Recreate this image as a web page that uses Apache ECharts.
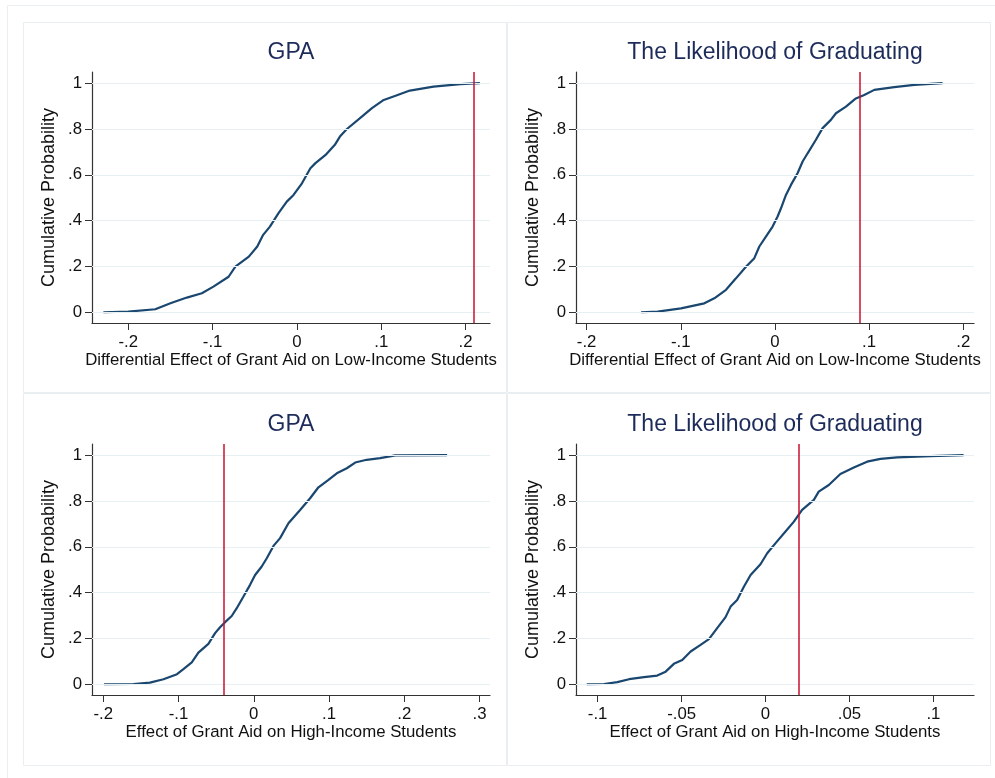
<!DOCTYPE html>
<html>
<head>
<meta charset="utf-8">
<script src="https://cdn.jsdelivr.net/npm/echarts@6/dist/echarts.min.js"></script>
<style>
html,body{margin:0;padding:0;background:#fff;}
#chart{width:995px;height:778px;}
</style>
</head>
<body>
<div id="chart"></div>
<script>
// ---------- Data ----------
const titles = ["GPA", "The Likelihood of Graduating", "GPA", "The Likelihood of Graduating"];
const xNames = [
  "Differential Effect of Grant Aid on Low-Income Students",
  "Differential Effect of Grant Aid on Low-Income Students",
  "Effect of Grant Aid on High-Income Students",
  "Effect of Grant Aid on High-Income Students"
];
const yName = "Cumulative Probability";
const yTicks = [0, 0.2, 0.4, 0.6, 0.8, 1];
const xTicks1 = [-0.2, -0.1, 0, 0.1, 0.2];
const xTicks2 = [-0.2, -0.1, 0, 0.1, 0.2];
const xTicks3 = [-0.2, -0.1, 0, 0.1, 0.2, 0.3];
const xTicks4 = [-0.1, -0.05, 0, 0.05, 0.1];
const xRange1 = [-0.243, 0.229];
const xRange2 = [-0.2113, 0.2114];
const xRange3 = [-0.215, 0.314];
const xRange4 = [-0.1129, 0.1242];
const refLines = [0.2067, 0.0853, -0.0382, 0.022];

// Panel 1: GPA, low-income differential
const p1X = [-0.2295,-0.2,-0.168,-0.150,-0.1305,-0.1127,-0.099,-0.081,-0.073,-0.057,-0.047,-0.040,-0.032,-0.022,-0.012,-0.004,0.006,0.016,0.022,0.034,0.045,0.051,0.059,0.077,0.089,0.103,0.117,0.134,0.162,0.194,0.217];
const p1Y = [0,0.003,0.013,0.039,0.064,0.083,0.112,0.155,0.199,0.243,0.287,0.338,0.374,0.432,0.483,0.512,0.563,0.629,0.651,0.687,0.731,0.767,0.799,0.854,0.891,0.927,0.945,0.968,0.985,0.996,1.0];
// Panel 2: Graduating, low-income differential
const p2X = [-0.1422,-0.1246,-0.0998,-0.075,-0.0644,-0.052,-0.0414,-0.0308,-0.0219,-0.0166,-0.0096,-0.0025,0.0028,0.0064,0.0117,0.017,0.024,0.0294,0.0347,0.0435,0.0506,0.0594,0.0648,0.0754,0.0853,0.0948,0.1055,0.1267,0.148,0.178];
const p2Y = [0,0.003,0.017,0.039,0.061,0.098,0.148,0.199,0.236,0.287,0.330,0.374,0.418,0.454,0.512,0.556,0.607,0.658,0.694,0.753,0.804,0.840,0.869,0.898,0.932,0.949,0.971,0.983,0.993,1.0];
// Panel 3: GPA, high-income
const p3X = [-0.199,-0.16,-0.138,-0.120,-0.102,-0.0935,-0.0824,-0.0736,-0.0603,-0.0514,-0.0448,-0.0381,-0.0293,-0.0226,-0.0137,-0.0049,0.0018,0.0106,0.0173,0.0262,0.035,0.0461,0.0616,0.0749,0.086,0.0993,0.1104,0.1237,0.1348,0.150,0.168,0.188,0.257];
const p3Y = [0,0.001,0.007,0.022,0.044,0.066,0.095,0.138,0.176,0.223,0.249,0.271,0.298,0.332,0.383,0.434,0.477,0.514,0.550,0.604,0.638,0.703,0.761,0.812,0.860,0.892,0.921,0.943,0.968,0.980,0.987,0.999,1.0];
// Panel 4: Graduating, high-income
const p4X = [-0.1065,-0.0962,-0.0883,-0.0813,-0.0724,-0.0645,-0.0595,-0.0546,-0.0496,-0.0446,-0.0387,-0.0337,-0.0288,-0.0238,-0.0208,-0.0169,-0.0129,-0.0089,-0.003,0.001,0.006,0.0119,0.0169,0.0218,0.0288,0.0317,0.0377,0.0446,0.0526,0.0605,0.0685,0.0784,0.0982,0.118];
const p4Y = [0,0.001,0.009,0.022,0.031,0.038,0.055,0.089,0.106,0.143,0.172,0.197,0.245,0.293,0.339,0.368,0.426,0.477,0.524,0.572,0.616,0.667,0.710,0.761,0.805,0.841,0.870,0.918,0.946,0.972,0.984,0.991,0.996,1.0];

// ---------- Build ----------
const FONT = "'Liberation Sans', Arial, sans-serif";
const panels = [
  {x:p1X, y:p1Y, ticks:xTicks1, range:xRange1, grid:{left:92, top:72, width:398, height:251}},
  {x:p2X, y:p2Y, ticks:xTicks2, range:xRange2, grid:{left:576, top:72, width:398, height:251}},
  {x:p3X, y:p3Y, ticks:xTicks3, range:xRange3, grid:{left:92, top:444, width:398, height:251}},
  {x:p4X, y:p4Y, ticks:xTicks4, range:xRange4, grid:{left:576, top:444, width:398, height:251}}
];
function fmt(v){
  if (v === 0) return '0';
  const s = String(Math.abs(+v.toFixed(4))).replace(/^0\./, '.');
  return (v < 0 ? '-' : '') + s;
}
const AXIS_COLOR = '#333';
const BORDER = '#e9eff1';
const option = {
  backgroundColor: '#fff',
  animation: false,
  title: [], grid: [], xAxis: [], yAxis: [], series: [],
  graphic: [
    {type:'rect', shape:{x:7.5, y:5.5, width:1000, height:800}, style:{fill:'none', stroke:BORDER, lineWidth:1}, silent:true},
    {type:'rect', shape:{x:23.5, y:22.5, width:483, height:370}, style:{fill:'none', stroke:BORDER, lineWidth:1}, silent:true},
    {type:'rect', shape:{x:507.5, y:22.5, width:483, height:370}, style:{fill:'none', stroke:BORDER, lineWidth:1}, silent:true},
    {type:'rect', shape:{x:23.5, y:393.5, width:483, height:372}, style:{fill:'none', stroke:BORDER, lineWidth:1}, silent:true},
    {type:'rect', shape:{x:507.5, y:393.5, width:483, height:372}, style:{fill:'none', stroke:BORDER, lineWidth:1}, silent:true}
  ]
};
panels.forEach((p, i) => {
  const g = p.grid;
  option.grid.push({left:g.left, top:g.top, width:g.width, height:g.height, containLabel:false});
  option.title.push({
    text: titles[i], left: g.left + g.width/2, top: g.top - 31, textAlign: 'center', padding: 0,
    textStyle: {fontFamily: FONT, fontSize: 23, fontWeight: 'normal', color: '#1c2b5a'}
  });
  option.xAxis.push({
    type:'value', gridIndex:i, min:p.range[0], max:p.range[1],
    name: xNames[i], nameLocation:'middle', nameGap: 29,
    nameTextStyle:{fontFamily:FONT, fontSize:16.8, color:'#111'},
    axisLine:{show:true, onZero:false, lineStyle:{color:AXIS_COLOR, width:1.2}},
    axisTick:{show:true, length:7, customValues:p.ticks, lineStyle:{color:AXIS_COLOR}},
    axisLabel:{customValues:p.ticks, formatter:fmt, margin:11, fontFamily:FONT, fontSize:16.8, color:'#111'},
    splitLine:{show:false}
  });
  option.yAxis.push({
    type:'value', gridIndex:i, min:-0.047, max:1.049,
    name: yName, nameLocation:'middle', nameGap: 34,
    nameTextStyle:{fontFamily:FONT, fontSize:18, color:'#111'},
    axisLine:{show:true, onZero:false, lineStyle:{color:AXIS_COLOR, width:1.2}},
    axisTick:{show:true, length:7, customValues:yTicks, lineStyle:{color:AXIS_COLOR}},
    axisLabel:{customValues:yTicks, formatter:fmt, margin:10, fontFamily:FONT, fontSize:16.8, color:'#111'},
    splitLine:{show:false}
  });
  // gridlines
  option.series.push({
    type:'line', xAxisIndex:i, yAxisIndex:i, data:[], z:1, silent:true,
    markLine:{silent:true, symbol:'none', label:{show:false}, animation:false,
      lineStyle:{color:'#e6eff1', width:1.2, type:'solid'},
      data: yTicks.map(v => ({yAxis:v}))}
  });
  // curve
  option.series.push({
    type:'line', xAxisIndex:i, yAxisIndex:i, z:3,
    data: p.x.map((x, k) => [x, p.y[k]]),
    showSymbol:false, smooth:false,
    lineStyle:{color:'#1a476f', width:2.2}
  });
  // reference line
  option.series.push({
    type:'line', xAxisIndex:i, yAxisIndex:i, data:[], z:4, silent:true,
    markLine:{silent:true, symbol:'none', label:{show:false}, animation:false,
      lineStyle:{color:'#c8102e', width:1.5, type:'solid'},
      data:[{xAxis: refLines[i]}]}
  });
});
const chart = echarts.init(document.getElementById('chart'), null, {renderer:'canvas'});
chart.setOption(option);
</script>
</body>
</html>
